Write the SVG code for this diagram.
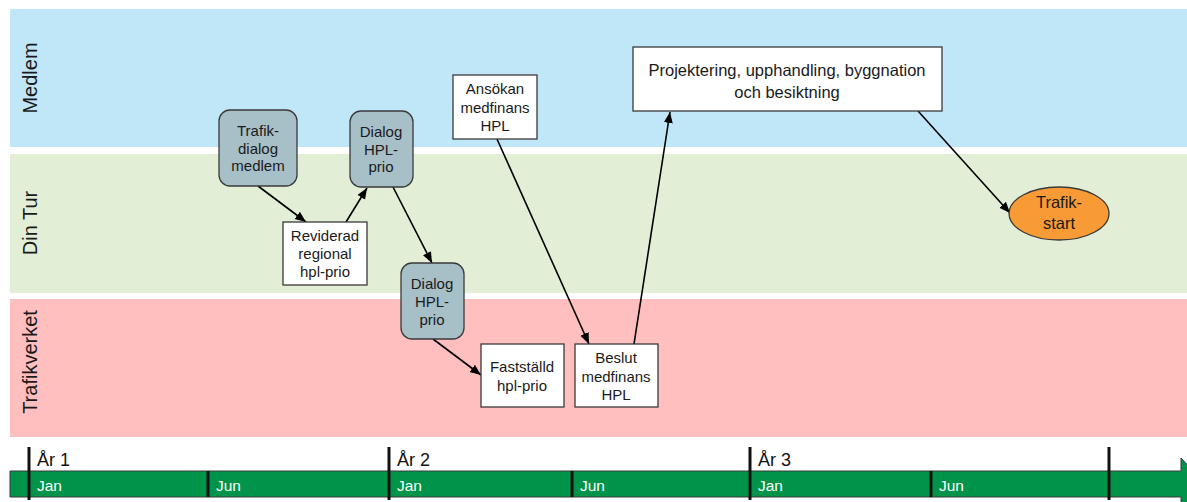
<svg xmlns="http://www.w3.org/2000/svg" width="1187" height="502" viewBox="0 0 1187 502">
<defs>
<marker id="arr" markerUnits="userSpaceOnUse" markerWidth="12" markerHeight="10" refX="11" refY="4.5" orient="auto">
<path d="M0,0 L11,4.5 L0,9 z" fill="#000"/>
</marker>
<style>
text{font-family:"Liberation Sans","Noto Sans",Arial,sans-serif;fill:#1a1a1a}
.lane{font-size:20px}
.n{font-size:15px;text-anchor:middle}
.big{font-size:16.5px;text-anchor:middle}
.grey{fill:#A7BFC7;stroke:#3a3a3a;stroke-width:1.3}
.box{fill:#fff;stroke:#3a3a3a;stroke-width:1.3}
.conn{stroke:#000;stroke-width:1.6;fill:none;marker-end:url(#arr)}
.yr{font-size:18px;fill:#111}
.mo{font-size:15.5px;fill:#fff}
.tick{stroke:#111;stroke-width:3}
</style>
</defs>
<rect width="1187" height="502" fill="#fff"/>
<g id="lanes">
<rect x="10" y="9" width="1177" height="138" fill="#BFE7F8"/>
<rect x="10" y="154" width="1177" height="139" fill="#E2EFD6"/>
<rect x="10" y="299" width="1177" height="138" fill="#FFBFBF"/>
<text class="lane" transform="translate(37,78) rotate(-90)" text-anchor="middle">Medlem</text>
<text class="lane" transform="translate(37,223) rotate(-90)" text-anchor="middle">Din Tur</text>
<text class="lane" transform="translate(37,362) rotate(-90)" text-anchor="middle">Trafikverket</text>
</g>
<g id="timeline">
<polygon points="10,471 1181,471 1181,458 1205,484 1181,510 1181,497 10,497" fill="#00944B" stroke="#3a3a3a" stroke-width="1"/>
<line class="tick" x1="29" y1="447" x2="29" y2="500"/>
<line class="tick" x1="389" y1="447" x2="389" y2="500"/>
<line class="tick" x1="750" y1="447" x2="750" y2="500"/>
<line class="tick" x1="1109" y1="447" x2="1109" y2="500"/>
<line class="tick" x1="208" y1="471" x2="208" y2="497"/>
<line class="tick" x1="572" y1="471" x2="572" y2="497"/>
<line class="tick" x1="931" y1="471" x2="931" y2="497"/>
<text class="yr" x="37" y="466">År 1</text>
<text class="yr" x="397" y="466">År 2</text>
<text class="yr" x="758" y="466">År 3</text>
<text class="mo" x="37" y="491">Jan</text>
<text class="mo" x="216" y="491">Jun</text>
<text class="mo" x="397" y="491">Jan</text>
<text class="mo" x="580" y="491">Jun</text>
<text class="mo" x="758" y="491">Jan</text>
<text class="mo" x="939" y="491">Jun</text>
</g>
<g id="connectors">
<line class="conn" x1="258" y1="186" x2="306" y2="222"/>
<line class="conn" x1="346" y1="222" x2="367" y2="188"/>
<line class="conn" x1="393" y1="187" x2="432" y2="263"/>
<line class="conn" x1="433" y1="339" x2="481" y2="375"/>
<line class="conn" x1="497" y1="139" x2="589" y2="344"/>
<line class="conn" x1="634" y1="344" x2="670" y2="112"/>
<line class="conn" x1="918" y1="111" x2="1010" y2="213"/>
</g>
<g id="trafikdialog">
<rect class="grey" x="219" y="110" width="78" height="76" rx="11"/>
<text class="n" x="258" y="136">Trafik-</text>
<text class="n" x="258" y="154">dialog</text>
<text class="n" x="258" y="171">medlem</text>
</g>
<g id="dialog1">
<rect class="grey" x="350" y="111" width="63" height="76" rx="11"/>
<text class="n" x="381" y="137">Dialog</text>
<text class="n" x="381" y="155">HPL-</text>
<text class="n" x="381" y="172">prio</text>
</g>
<g id="reviderad">
<rect class="box" x="283" y="222" width="84" height="63"/>
<text class="n" x="325" y="241">Reviderad</text>
<text class="n" x="325" y="259">regional</text>
<text class="n" x="325" y="277">hpl-prio</text>
</g>
<g id="dialog2">
<rect class="grey" x="401" y="263" width="63" height="76" rx="11"/>
<text class="n" x="432" y="289">Dialog</text>
<text class="n" x="432" y="307">HPL-</text>
<text class="n" x="432" y="325">prio</text>
</g>
<g id="faststalld">
<rect class="box" x="481" y="344" width="83" height="63"/>
<text class="n" x="522" y="372">Fastställd</text>
<text class="n" x="522" y="391">hpl-prio</text>
</g>
<g id="beslut">
<rect class="box" x="575" y="344" width="83" height="63"/>
<text class="n" x="616" y="363">Beslut</text>
<text class="n" x="616" y="382">medfinans</text>
<text class="n" x="616" y="400">HPL</text>
</g>
<g id="ansokan">
<rect class="box" x="453" y="75" width="84" height="64"/>
<text class="n" x="495" y="94">Ansökan</text>
<text class="n" x="495" y="113">medfinans</text>
<text class="n" x="495" y="131">HPL</text>
</g>
<g id="projektering">
<rect class="box" x="633" y="47" width="309" height="64"/>
<text class="big" x="787" y="76">Projektering, upphandling, byggnation</text>
<text class="big" x="787" y="98">och besiktning</text>
</g>
<g id="trafikstart">
<ellipse cx="1059" cy="213.5" rx="50" ry="26.5" fill="#F89B36" stroke="#3a3a3a" stroke-width="1.3"/>
<text class="big" x="1059" y="208">Trafik-</text>
<text class="big" x="1059" y="229">start</text>
</g>
</svg>
